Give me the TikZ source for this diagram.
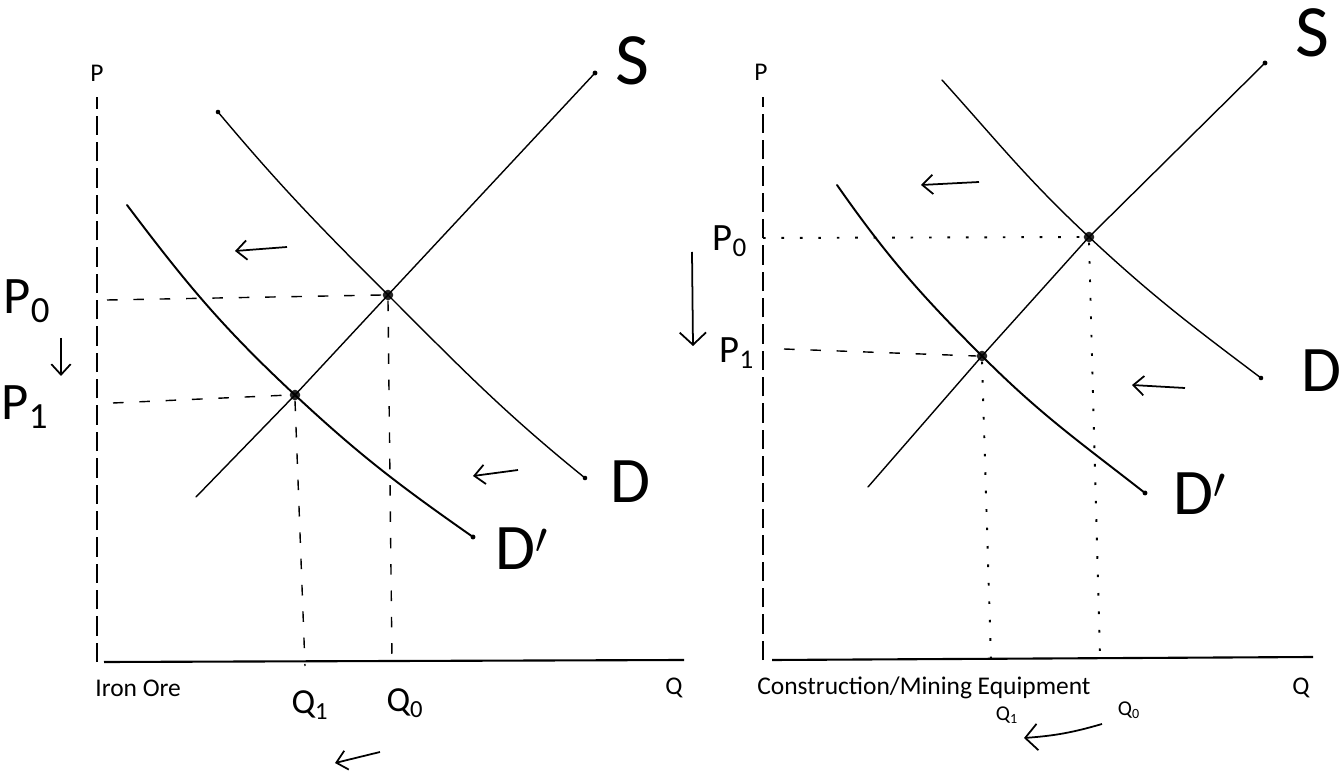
\documentclass[tikz,border=0pt]{standalone}
\usepackage{fontspec}
\setmainfont{Carlito}
\usetikzlibrary{arrows.meta}
\begin{document}
\begin{tikzpicture}[x=0.02cm,y=-0.02cm,
  curve/.style={line width=0.8pt, line cap=round},
  axisv/.style={line width=1pt, dash pattern=on 11pt off 4pt},
  axish/.style={line width=1.2pt},
  guide/.style={line width=0.8pt, dash pattern=on 6pt off 9pt},
  dotguide/.style={line width=1.1pt, dash pattern=on 1.5pt off 9pt},
  eq/.style={circle, fill=black!85, inner sep=0pt, minimum size=6pt},
  lab/.style={font=\fontsize{14.5}{16}\selectfont, inner sep=0pt},
  handP/.style={font=\fontsize{30}{32}\selectfont, inner sep=0pt},
  handPs/.style={font=\fontsize{22}{24}\selectfont, inner sep=0pt},
  handQ/.style={font=\fontsize{20}{22}\selectfont, inner sep=0pt},
  handQs/.style={font=\fontsize{12}{13}\selectfont, inner sep=0pt},
  handD/.style={font=\fontsize{37}{39}\selectfont, inner sep=0pt},
  handS/.style={font=\fontsize{42}{44}\selectfont, inner sep=0pt},
  shiftarrow/.style={line width=1pt, -{Straight Barb[length=6pt,width=11pt]}},
  bigarrow/.style={line width=1pt, -{Straight Barb[length=7pt,width=15pt]}}
]
\useasboundingbox (0,0) rectangle (1343,773);

% ================= LEFT CHART =================
\coordinate (LO) at (97,662);
\coordinate (LPtop) at (97,97);
\coordinate (LOh) at (104,662);
\coordinate (LQend) at (684,660);
\draw[axisv] (LO) -- (LPtop);
\draw[axish] (LOh) -- (LQend);

\node[lab] (LP) at (97,73) {P};
\node[lab, anchor=west] (LIron) at (95,688) {Iron Ore};
\node[lab] (LQ) at (674,688) {Q};

\node[eq] (LE0) at (388,295) {};
\node[eq] (LE1) at (295,395) {};

% supply
\coordinate (LSa) at (196,497);
\coordinate (LSb) at (595,73);
\draw[curve] (LSa) -- (LE1.center) -- (LE0.center) -- (LSb);
\fill (LSb) circle (1.4pt);
% demand D
\coordinate (LDa) at (218,112);
\coordinate (LDb) at (585,478);
\draw[curve] (LDa) to[out=-50,in=135] (LE0.center) to[out=-45,in=141] (LDb);
\fill (LDa) circle (1.3pt);
\fill (LDb) circle (1.3pt);
% demand D'
\coordinate (LDpa) at (127,205);
\coordinate (LDpb) at (473,537);
\draw[curve, line width=1.1pt] (LDpa) to[out=-53,in=137] (LE1.center) to[out=-43,in=145] (LDpb);
\fill (LDpb) circle (1.4pt);

% guides
\coordinate (LP0a) at (107,300);
\coordinate (LP1a) at (113,403);
\coordinate (LQ0b) at (392,662);
\coordinate (LQ1b) at (305,666);
\draw[guide] (LP0a) -- (LE0.west);
\draw[guide] (LP1a) -- (LE1.west);
\draw[guide] (LE0.south) -- (LQ0b);
\draw[guide] (LE1.south) -- (LQ1b);

% handwritten labels
\node[handP] (LP0) at (27,301) {P\textsubscript{0}};
\node[handP] (LP1) at (25,407) {P\textsubscript{1}};
\node[handQ] (LQ1) at (310,705) {Q\textsubscript{1}};
\node[handQ] (LQ0) at (405,703) {Q\textsubscript{0}};
\node[handS] (LSl) at (632,61) {S};
\node[handD] (LDl) at (630,482) {D};
\node[handD] (LDpl) at (522,549) {D$'$};

% shift arrows
\coordinate (LA1a) at (287,247);  \coordinate (LA1b) at (235,251);
\coordinate (LA2a) at (518,470);  \coordinate (LA2b) at (473,476);
\coordinate (LA3a) at (380,752);  \coordinate (LA3b) at (335,763);
\coordinate (LA4a) at (61,338);   \coordinate (LA4b) at (61,376);
\draw[shiftarrow] (LA1a) -- (LA1b);
\draw[shiftarrow] (LA2a) -- (LA2b);
\draw[shiftarrow] (LA3a) -- (LA3b);
\draw[shiftarrow] (LA4a) -- (LA4b);

% ================= RIGHT CHART =================
\coordinate (RO) at (763,660);
\coordinate (RPtop) at (763,97);
\coordinate (ROh) at (772,660);
\coordinate (RQend) at (1313,657);
\draw[axisv] (RO) -- (RPtop);
\draw[axish] (ROh) -- (RQend);

\node[lab] (RP) at (761,72) {P};
\node[lab, anchor=west] (RCon) at (757,688) {Construction/Mining Equipment};
\node[lab] (RQ) at (1301,688) {Q};

\node[eq] (RE0) at (1089,237) {};
\node[eq] (RE1) at (982,356) {};

% supply
\coordinate (RSa) at (868,487);
\coordinate (RSb) at (1265,63);
\draw[curve] (RSa) -- (RE1.center) -- (RE0.center) -- (RSb);
\fill (RSb) circle (1.4pt);
% demand D
\coordinate (RDa) at (942,80);
\coordinate (RDb) at (1261,378);
\draw[curve] (RDa) to[out=-48,in=137] (RE0.center) to[out=-43,in=143] (RDb);
\fill (RDb) circle (1.3pt);
% demand D'
\coordinate (RDpa) at (837,185);
\coordinate (RDpb) at (1145,493);
\draw[curve, line width=1.1pt] (RDpa) to[out=-55,in=135] (RE1.center) to[out=-45,in=142] (RDpb);
\fill (RDpb) circle (1.4pt);

% guides
\coordinate (RP0a) at (763,238);
\coordinate (RP1a) at (784,349);
\coordinate (RQ0b) at (1100,658);
\coordinate (RQ1b) at (991,660);
\draw[dotguide] (RP0a) -- (RE0.west);
\draw[guide] (RP1a) -- (RE1.west);
\draw[dotguide] (RE0.south) -- (RQ0b);
\draw[dotguide] (RE1.south) -- (RQ1b);

% handwritten labels
\node[handPs] (RP0) at (730,241) {P\textsubscript{0}};
\node[handPs] (RP1) at (737,353) {P\textsubscript{1}};
\node[handQs] (RQ1) at (1007,715) {Q\textsubscript{1}};
\node[handQs] (RQ0) at (1129,710) {Q\textsubscript{0}};
\node[handS] (RSl) at (1312,33) {S};
\node[handD] (RDl) at (1321,371) {D};
\node[handD] (RDpl) at (1200,494) {D$'$};

% shift arrows
\coordinate (RA1a) at (979,182);   \coordinate (RA1b) at (921,185);
\coordinate (RA2a) at (1185,388);  \coordinate (RA2b) at (1132,385);
\coordinate (RA3a) at (1102,724);  \coordinate (RA3b) at (1024,738);
\coordinate (RA4a) at (692,252);   \coordinate (RA4b) at (693,346);
\draw[shiftarrow] (RA1a) -- (RA1b);
\draw[shiftarrow] (RA2a) -- (RA2b);
\draw[bigarrow] (RA3a) to[bend left=6] (RA3b);
\draw[bigarrow] (RA4a) -- (RA4b);
\end{tikzpicture}
\end{document}
